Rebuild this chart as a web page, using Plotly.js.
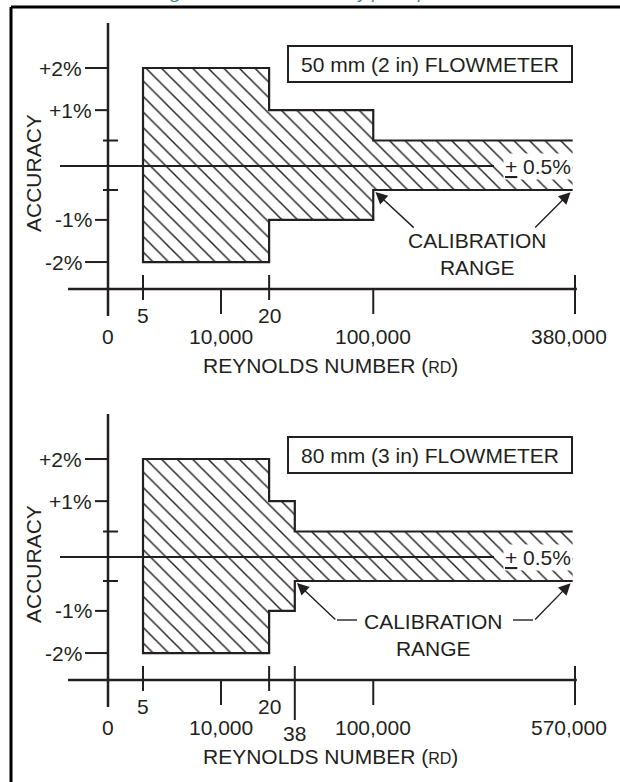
<!DOCTYPE html>
<html>
<head>
<meta charset="utf-8">
<script src="https://cdn.plot.ly/plotly-3.0.1.min.js"></script>
<style>html,body{margin:0;padding:0;background:#fff;}</style>
</head>
<body>
<div id="chart" style="width:620px;height:782px;"></div>
<script>
// ---------------- data ----------------
const figureTitle = 'Figure 1-3. Meter Accuracy per Pipe Size';
const yAxisTitle = 'ACCURACY';
const xAxisTitle = 'REYNOLDS NUMBER (<span style="font-size:16px">RD</span>)';
const meterLabels = ['50 mm (2 in) FLOWMETER', '80 mm (3 in) FLOWMETER'];
const toleranceLabel = '<u>+</u> 0.5%';
const calibrationLabel = 'CALIBRATION<br>RANGE';

// accuracy (%) ticks
const accTickVals = [2, 1, -1, -2];
const accTickText = ['+2%', '+1%', '-1%', '-2%'];
const accMinorTicks = [0.5, -0.5];
// schematic (non-linear) vertical scale of the drawing: accuracy -> position
const accKnots = [-2, -1, -0.5, 0, 0.5, 1, 2];
const posKnots = [-1.96, -1.10, -0.49, 0, 0.52, 1.14, 2.0];

// chart 1: 50 mm meter (schematic positions along the Reynolds axis)
const reLabels1 = ['0', '10,000', '100,000', '380,000'];
const rePos1 = [0, 2.42, 5.68, 10];
const flowLabels1 = ['5', '20'];
const flowPos1 = [0.75, 3.45];
const bandX1 = [0.75, 3.45, 5.68, 9.95];   // band break points
const bandAcc1 = [2, 1, 0.5];              // +/- accuracy in each segment

// chart 2: 80 mm meter
const reLabels2 = ['0', '10,000', '100,000', '570,000'];
const rePos2 = [0, 2.42, 5.68, 10];
const flowLabels2 = ['5', '20', '38'];
const flowPos2 = [0.75, 3.45, 4.0];
const bandX2 = [0.75, 3.45, 4.0, 9.95];
const bandAcc2 = [2, 1, 0.5];

// ---------------- drawing ----------------
const INK = '#231f20';
const FONT = 'Liberation Sans, Arial, Helvetica, sans-serif';
const FS = 21;
const PXU = 46.7, ORIGIN_X = 108, PYU = 49, ZERO_PY = [166, 557];
const dx = px => (px - ORIGIN_X) / PXU;
const dy = (py, k) => (ZERO_PY[k] - py) / PYU;
function f(a) {
  for (let i = 0; i < accKnots.length - 1; i++) {
    if (a <= accKnots[i + 1]) {
      const t = (a - accKnots[i]) / (accKnots[i + 1] - accKnots[i]);
      return posKnots[i] + t * (posKnots[i + 1] - posKnots[i]);
    }
  }
  return posKnots[posKnots.length - 1];
}
const AX_OFF = -123; // x-axis line, pixels below the zero line

const charts = [
  {meter: meterLabels[0], re: reLabels1, reP: rePos1, fl: flowLabels1, flP: flowPos1, bx: bandX1, ba: bandAcc1,
   cal: [477, 254], arrows: [[42, 39], [-39, 39]], connectors: null},
  {meter: meterLabels[1], re: reLabels2, reP: rePos2, fl: flowLabels2, flP: flowPos2, bx: bandX2, ba: bandAcc2,
   cal: [433, 635], arrows: [[42, 40], [-39, 40]], connectors: [[337, 357], [513, 533]], calY: 620}
];

const traces = [], shapes = [], annotations = [];
const txt = (s, extra) => Object.assign({text: s, showarrow: false, font: {family: FONT, size: FS, color: INK}}, extra);

charts.forEach((c, k) => {
  const xr = k === 0 ? 'x' : 'x2', yr = k === 0 ? 'y' : 'y2';
  // outline path (open on the right)
  const ox = [], oy = [];
  const n = c.ba.length;
  ox.push(c.bx[n]); oy.push(f(c.ba[n - 1]));
  for (let i = n - 1; i >= 0; i--) {
    ox.push(c.bx[i + 1], c.bx[i]); oy.push(f(c.ba[i]), f(c.ba[i]));
  }
  for (let i = 0; i < n; i++) {
    ox.push(c.bx[i], c.bx[i + 1]); oy.push(f(-c.ba[i]), f(-c.ba[i]));
  }
  // filled hatched polygon
  traces.push({x: ox.concat([ox[0]]), y: oy.concat([oy[0]]), xaxis: xr, yaxis: yr, type: 'scatter', mode: 'lines',
    line: {width: 0, color: 'rgba(0,0,0,0)'}, fill: 'toself', fillcolor: '#fff',
    fillpattern: {shape: '\\', size: 11, solidity: 0.13, fgcolor: INK, bgcolor: '#fff'}, hoverinfo: 'skip'});
  traces.push({x: ox, y: oy, xaxis: xr, yaxis: yr, type: 'scatter', mode: 'lines',
    line: {width: 2.2, color: INK}, hoverinfo: 'skip'});

  const L = (o) => Object.assign({type: 'line', xref: xr, yref: yr, line: {color: INK, width: 2.2}}, o);
  // zero line
  shapes.push(L({x0: dx(60), x1: dx(494), y0: 0, y1: 0, line: {color: INK, width: 2}}));
  // y axis
  shapes.push(L({x0: 0, x1: 0, ysizemode: 'pixel', yanchor: 0, y0: 143, y1: AX_OFF - 27, line: {color: INK, width: 2.5}}));
  // x axis
  shapes.push(L({x0: dx(68), x1: c.reP[c.reP.length - 1] + 0.04, ysizemode: 'pixel', yanchor: 0, y0: AX_OFF, y1: AX_OFF, line: {color: INK, width: 2.5}}));
  // y ticks + labels
  accTickVals.forEach((v, i) => {
    const len = Math.abs(v) === 2 ? 23 : 13;
    shapes.push(L({xsizemode: 'pixel', xanchor: 0, x0: -len, x1: 0, y0: f(v), y1: f(v), line: {color: INK, width: 2}}));
    annotations.push(txt(accTickText[i], {xref: xr, yref: yr, x: 0, y: f(v), xanchor: 'right', yanchor: 'middle', xshift: -len - 1}));
  });
  accMinorTicks.forEach(v => {
    shapes.push(L({xsizemode: 'pixel', xanchor: 0, x0: -5, x1: 10, y0: f(v), y1: f(v), line: {color: INK, width: 2}}));
  });
  // Reynolds ticks + labels
  c.re.forEach((lab, i) => {
    const last = i === c.re.length - 1;
    if (i > 0) {
      shapes.push(L({x0: c.reP[i], x1: c.reP[i], ysizemode: 'pixel', yanchor: 0,
        y0: AX_OFF + (last ? 14 : 0), y1: AX_OFF - 25, line: {color: INK, width: 2}}));
    }
    annotations.push(txt(lab, {xref: xr, yref: yr, x: c.reP[i], y: 0, yshift: AX_OFF - 47,
      xanchor: 'center', xshift: last ? -6 : 0, yanchor: 'middle'}));
  });
  // flow ticks + labels
  c.fl.forEach((lab, i) => {
    const long = Number(lab) > 20;
    shapes.push(L({x0: c.flP[i], x1: c.flP[i], ysizemode: 'pixel', yanchor: 0,
      y0: AX_OFF + 14, y1: AX_OFF - (long ? 40 : 11), line: {color: INK, width: 2}}));
    annotations.push(txt(lab, {xref: xr, yref: yr, x: c.flP[i], y: 0, yshift: AX_OFF - (long ? 53 : 26), yanchor: 'middle'}));
  });
  // axis titles
  annotations.push(txt(xAxisTitle, {xref: xr, yref: yr, x: dx(330), y: 0, yshift: AX_OFF - 76, yanchor: 'middle'}));
  annotations.push(txt(yAxisTitle, {xref: xr, yref: yr, x: dx(33), y: dy(ZERO_PY[k] + 7, k), textangle: -90}));
  // meter label box
  annotations.push(txt(c.meter, {xref: xr, yref: yr, x: dx(430), y: dy(ZERO_PY[k] - 102, k),
    width: 282, height: 34, borderpad: 0, bordercolor: INK, borderwidth: 2, bgcolor: '#fff'}));
  // tolerance label
  annotations.push(txt(toleranceLabel, {xref: xr, yref: yr, x: dx(538), y: 0, bgcolor: '#fff', borderpad: 1}));
  // calibration label + arrows
  annotations.push(txt(calibrationLabel, {xref: xr, yref: yr, x: dx(c.cal[0]), y: dy(c.cal[1], k)}));
  const corners = [[c.bx[n - 1], f(-c.ba[n - 1])], [c.bx[n], f(-c.ba[n - 1])]];
  corners.forEach((p, j) => {
    annotations.push({xref: xr, yref: yr, x: p[0], y: p[1], text: '', showarrow: true,
      ax: c.arrows[j][0], ay: c.arrows[j][1], arrowhead: 2, arrowsize: 1.7, arrowwidth: 1.4,
      arrowcolor: INK, standoff: 3});
  });
  if (c.connectors) {
    c.connectors.forEach(seg => {
      shapes.push(L({x0: dx(seg[0]), x1: dx(seg[1]), y0: dy(c.calY, k), y1: dy(c.calY, k), line: {color: INK, width: 1.4}}));
    });
  }
});

// page frame (left and top rules) and the caption, clipped at the top edge as in the scan
shapes.push({type: 'line', xref: 'paper', yref: 'paper', x0: 11 / 620, x1: 1, y0: 1 - 7 / 782, y1: 1 - 7 / 782, line: {color: '#000', width: 3}});
shapes.push({type: 'line', xref: 'paper', yref: 'paper', x0: 11 / 620, x1: 11 / 620, y0: 1 - 7 / 782, y1: 0, line: {color: '#000', width: 3}});
annotations.push({xref: 'paper', yref: 'paper', x: 315 / 620, y: 1 - 5 / 782, yanchor: 'bottom', showarrow: false,
  text: '<i>' + figureTitle + '</i>', font: {family: 'Open Sans, sans-serif', size: 18, color: '#4a7688'}});

const axBase = {visible: false, fixedrange: true, showgrid: false, zeroline: false};
const layout = {
  width: 620, height: 782, margin: {l: 0, r: 0, t: 0, b: 0},
  paper_bgcolor: '#fff', plot_bgcolor: '#fff', showlegend: false,
  xaxis: Object.assign({domain: [0, 1], range: [dx(0), dx(620)], anchor: 'y'}, axBase),
  yaxis: Object.assign({domain: [0.5, 1], range: [dy(391, 0), dy(0, 0)], anchor: 'x'}, axBase),
  xaxis2: Object.assign({domain: [0, 1], range: [dx(0), dx(620)], anchor: 'y2'}, axBase),
  yaxis2: Object.assign({domain: [0, 0.5], range: [dy(782, 1), dy(391, 1)], anchor: 'x2'}, axBase),
  shapes: shapes, annotations: annotations
};
Plotly.newPlot('chart', traces, layout, {staticPlot: true, displayModeBar: false});
</script>
</body>
</html>
